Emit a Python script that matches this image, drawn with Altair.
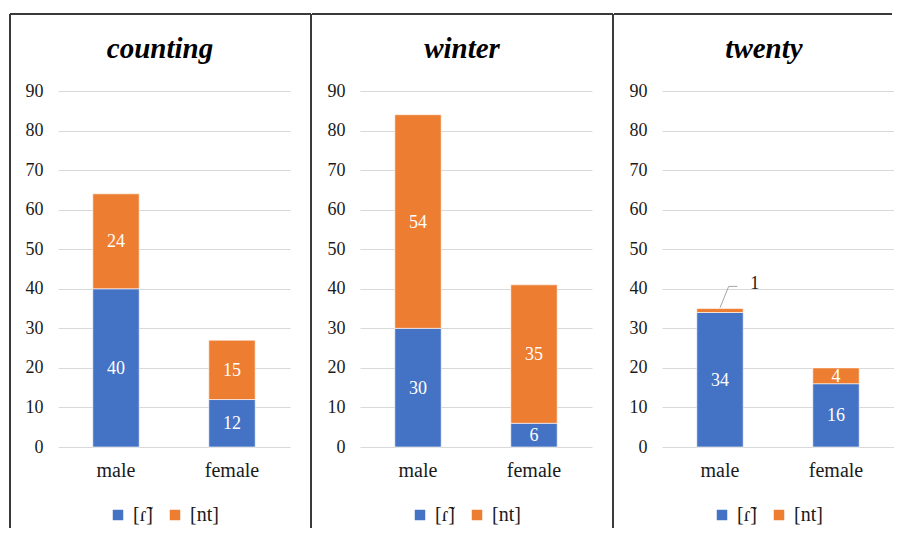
import altair as alt
import pandas as pd

panels = ["counting", "winter", "twenty"]
sexes = ["male", "female"]
sounds = ["[ɾ̃]", "[nt]"]
colors = ["#4472C4", "#ED7D31"]

# values per panel: [male, female]
tap_vals = {"counting": [40, 12], "winter": [30, 6], "twenty": [34, 16]}
nt_vals = {"counting": [24, 15], "winter": [54, 35], "twenty": [1, 4]}

# label shown outside the bar with a leader line (twenty, male, [nt])
callout_panel = "twenty"
callout_sex_index = 0
callout_text = "1"
# leader polyline in category units (0.5 = centre of "male") and value units
leader_x = [0.50, 0.575, 0.65]
leader_y = [35.2, 40.6, 40.6]
callout_label_x = 0.80
callout_label_y = 41.2

FONT = "Liberation Serif, Times New Roman, serif"
W, H = 232, 356
TXT = "#1a1a1a"

rows = []
for p in panels:
    for i, s in enumerate(sexes):
        rows.append({"panel": p, "sex": s, "sound": sounds[0], "ord": 0, "v": tap_vals[p][i]})
        rows.append({"panel": p, "sex": s, "sound": sounds[1], "ord": 1, "v": nt_vals[p][i]})
df = pd.DataFrame(rows)
df["inside"] = ~((df["panel"] == callout_panel) & (df["sex"] == sexes[callout_sex_index]) & (df["sound"] == sounds[1]))

dummy = pd.DataFrame({"k": [0]})

xscale = alt.Scale(type="band", domain=sexes, paddingInner=0.6, paddingOuter=0.3)
xaxis = alt.Axis(labelAngle=0, labelFontSize=20, labelFont=FONT, labelColor=TXT,
                 ticks=False, domain=False, labelPadding=13, title=None)
yscale = alt.Scale(domain=[0, 90], nice=False, zero=True)
yaxis = alt.Axis(values=list(range(0, 100, 10)), labelFontSize=18, labelFont=FONT,
                 labelColor=TXT, ticks=False, domain=False, gridColor="#d9d9d9",
                 gridWidth=1, labelPadding=15, title=None, labelOverlap=False)


def panel(name, left_border, right_border):
    d = df[df["panel"] == name]
    bars = alt.Chart(d).mark_bar(stroke="white", strokeWidth=0.6).encode(
        x=alt.X("sex:N", sort=sexes, scale=xscale, axis=xaxis),
        y=alt.Y("v:Q", stack="zero", scale=yscale, axis=yaxis),
        color=alt.Color("sound:N", sort=sounds,
                        scale=alt.Scale(domain=sounds, range=colors),
                        legend=alt.Legend(title=None, orient="none", direction="horizontal",
                                          legendX=50, legendY=414, symbolType="square",
                                          symbolSize=110, symbolStrokeWidth=0,
                                          labelFont=FONT, labelFontSize=20,
                                          labelColor=TXT, columnPadding=12,
                                          labelOffset=5)),
        order=alt.Order("ord:Q", sort="ascending"),
    )
    labels = alt.Chart(d).transform_stack(
        stack="v", groupby=["sex"], as_=["y0", "y1"], sort=[alt.SortField("ord")]
    ).transform_filter("datum.inside").transform_calculate(
        mid="(datum.y0 + datum.y1) / 2"
    ).mark_text(color="white", fontSize=18, font=FONT, dy=1).encode(
        x=alt.X("sex:N", sort=sexes, scale=xscale, axis=xaxis, bandPosition=0.5),
        y=alt.Y("mid:Q", scale=yscale, axis=yaxis),
        text=alt.Text("v:Q"),
    )
    main = alt.layer(bars, labels)

    title = alt.Chart(pd.DataFrame({"t": [name]})).mark_text(
        font=FONT, fontSize=29, fontWeight="bold", fontStyle="italic", color="black",
        baseline="middle", align="center").encode(
        text="t:N", x=alt.value(102), y=alt.value(-42))

    bc = "#3a3a3a"
    deco = [title]
    deco.append(alt.Chart(dummy).mark_rule(color=bc, strokeWidth=2).encode(
        x=alt.value(-48), x2=alt.value(253 if right_border else 230), y=alt.value(-77)))
    if left_border:
        deco.append(alt.Chart(dummy).mark_rule(color=bc, strokeWidth=2).encode(
            x=alt.value(-48), y=alt.value(-77), y2=alt.value(437)))
    if right_border:
        deco.append(alt.Chart(dummy).mark_rule(color=bc, strokeWidth=2).encode(
            x=alt.value(253), y=alt.value(-77), y2=alt.value(437)))

    if name == callout_panel:
        qscale = alt.Scale(domain=[0, 2], nice=False, zero=False)
        lead = pd.DataFrame({"xq": leader_x, "yv": leader_y, "i": list(range(len(leader_x)))})
        leader = alt.Chart(lead).mark_line(color="#a6a6a6", strokeWidth=1).encode(
            x=alt.X("xq:Q", scale=qscale, axis=None),
            y=alt.Y("yv:Q", scale=yscale, axis=yaxis),
            order="i:Q",
        )
        ctext = alt.Chart(pd.DataFrame({"xq": [callout_label_x], "yv": [callout_label_y],
                                        "t": [callout_text]})).mark_text(
            color=TXT, fontSize=18, font=FONT).encode(
            x=alt.X("xq:Q", scale=qscale, axis=None),
            y=alt.Y("yv:Q", scale=yscale, axis=yaxis),
            text="t:N",
        )
        extra = alt.layer(leader, ctext)
        full = alt.layer(main, extra, *deco).resolve_scale(x="independent")
    else:
        full = alt.layer(main, *deco)

    return full.properties(width=W, height=H)


chart = alt.hconcat(
    panel("counting", True, True),
    panel("winter", False, True),
    panel("twenty", False, False),
    spacing=70, bounds="flush",
).resolve_scale(color="independent").resolve_legend(color="independent").properties(
    padding={"left": 1, "top": 5, "right": 0, "bottom": 0}
).configure_view(stroke=None)

chart.save("out.html", embed_options={"renderer": "svg", "actions": False})
